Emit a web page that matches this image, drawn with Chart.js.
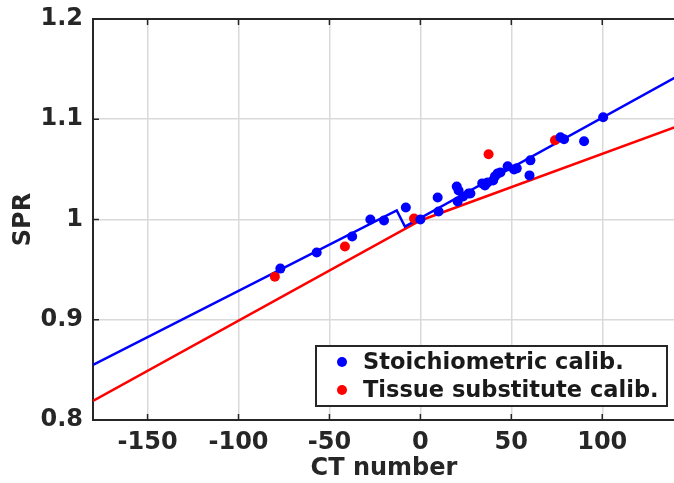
<!DOCTYPE html>
<html>
<head>
<script src="https://cdn.jsdelivr.net/npm/chart.js@4.4.1/dist/chart.umd.min.js"></script>
<style>
  html, body { margin: 0; padding: 0; background: #fff; overflow: hidden; }
  #wrap { width: 680px; height: 483px; }
</style>
</head>
<body>
<div id="wrap"><canvas id="sprChart"></canvas></div>

<script>
var stoichCT  = [-77, -57, -37.5, -27.5, -20, -8, 0, 9.5, 10, 20, 21, 20.5, 23.5, 26.5, 27.5, 34, 35.5, 37, 40, 41, 42.5, 44, 48, 51.5, 53, 60.5, 60, 77, 79, 90, 100.5];
var stoichSPR = [0.951, 0.967, 0.983, 1.000, 0.999, 1.012, 1.000, 1.022, 1.008, 1.033, 1.029, 1.018, 1.023, 1.026, 1.026, 1.036, 1.034, 1.037, 1.039, 1.043, 1.046, 1.047, 1.053, 1.050, 1.051, 1.059, 1.044, 1.082, 1.080, 1.078, 1.102];

var tissueCT  = [-80, -41.5, -3.5, 37.5, 74];
var tissueSPR = [0.943, 0.973, 1.001, 1.065, 1.079];

// fitted calibration curves (vertices)
var stoichFitCT  = [-180, -13, -8.5, 140];
var stoichFitSPR = [0.855, 1.009, 0.993, 1.1415];

var tissueFitCT  = [-180, 0, 140];
var tissueFitSPR = [0.819, 0.999, 1.092];

var xTicks = [-150, -100, -50, 0, 50, 100];
var yTicks = [0.8, 0.9, 1.0, 1.1, 1.2];
var yTickLabels = ["0.8", "0.9", "1", "1.1", "1.2"];

function toXY(xs, ys) {
    return xs.map(function(x, i) { return { x: x, y: ys[i] }; });
}

var axisColor = '#262626';
var fontFamily = "'DejaVu Sans', sans-serif";

// legend box in the lower right + inward tick marks + top frame line
var matlabBox = {
    id: 'matlabBox',
    afterDatasetsDraw: function(chart) {
        var ctx = chart.ctx;
        var area = chart.chartArea;
        var xs = chart.scales.x, ys = chart.scales.y;
        ctx.save();
        ctx.strokeStyle = axisColor;
        ctx.lineWidth = 2;
        ctx.beginPath();
        ctx.moveTo(area.left, area.top);
        ctx.lineTo(area.right, area.top);
        ctx.stroke();
        ctx.lineWidth = 1.5;
        xTicks.forEach(function(v) {
            var px = xs.getPixelForValue(v);
            ctx.beginPath();
            ctx.moveTo(px, area.bottom); ctx.lineTo(px, area.bottom - 6);
            ctx.moveTo(px, area.top); ctx.lineTo(px, area.top + 6);
            ctx.stroke();
        });
        yTicks.forEach(function(v) {
            var py = ys.getPixelForValue(v);
            ctx.beginPath();
            ctx.moveTo(area.left, py); ctx.lineTo(area.left + 6, py);
            ctx.stroke();
        });

        // legend
        var items = chart.data.datasets.filter(function(d) { return d.inLegend; });
        var bx = 316, by = 346, bw = 351, bh = 60;
        ctx.fillStyle = '#fff';
        ctx.fillRect(bx, by, bw, bh);
        ctx.lineWidth = 2;
        ctx.strokeRect(bx, by, bw, bh);
        ctx.font = 'bold 22.5px ' + fontFamily;
        ctx.textBaseline = 'middle';
        items.forEach(function(d, i) {
            var cy = by + 16 + i * 28;
            ctx.fillStyle = d.backgroundColor;
            ctx.beginPath();
            ctx.arc(bx + 26, cy, 5, 0, Math.PI * 2);
            ctx.fill();
            ctx.fillStyle = '#1a1a1a';
            ctx.fillText(d.label, bx + 47, cy + 1);
        });
        ctx.restore();
    }
};

new Chart("sprChart", {
    type: "scatter",
    data: {
        datasets: [
            {
                label: "Stoichiometric calib.",
                inLegend: true,
                data: toXY(stoichCT, stoichSPR),
                backgroundColor: '#0000ff',
                borderColor: '#0000ff',
                pointRadius: 5,
                pointBorderWidth: 0,
                order: 0
            },
            {
                label: "Tissue substitute calib.",
                inLegend: true,
                data: toXY(tissueCT, tissueSPR),
                backgroundColor: '#ff0000',
                borderColor: '#ff0000',
                pointRadius: 5,
                pointBorderWidth: 0,
                order: 0
            },
            {
                label: "stoich fit",
                data: toXY(stoichFitCT, stoichFitSPR),
                showLine: true,
                borderColor: '#0000ff',
                borderWidth: 2.5,
                pointRadius: 0,
                order: 1
            },
            {
                label: "tissue fit",
                data: toXY(tissueFitCT, tissueFitSPR),
                showLine: true,
                borderColor: '#ff0000',
                borderWidth: 2.5,
                pointRadius: 0,
                order: 1
            }
        ]
    },
    options: {
        responsive: true,
        maintainAspectRatio: false,
        animation: false,
        layout: { padding: { top: 19, right: 1, left: 0, bottom: 0 } },
        plugins: {
            legend: { display: false },
            tooltip: { enabled: false }
        },
        scales: {
            x: {
                type: 'linear',
                min: -180,
                max: 140,
                afterBuildTicks: function(s) { s.ticks = xTicks.map(function(v) { return { value: v }; }); },
                afterFit: function(s) { s.height = 63; s.paddingLeft = 0; s.paddingRight = 0; },
                grid: { color: '#d9d9d9', lineWidth: 1.5, drawTicks: false },
                border: { display: true, color: axisColor, width: 2 },
                ticks: {
                    padding: 8,
                    color: '#262626',
                    font: { family: fontFamily, size: 24, weight: 'bold' },
                    callback: function(v) { return String(v); }
                },
                title: {
                    display: true,
                    text: 'CT number',
                    color: '#262626',
                    padding: { top: 0, bottom: 0 },
                    font: { family: fontFamily, size: 24, weight: 'bold' }
                }
            },
            y: {
                type: 'linear',
                min: 0.8,
                max: 1.2,
                afterBuildTicks: function(s) { s.ticks = yTicks.map(function(v) { return { value: v }; }); },
                afterFit: function(s) { s.width = 93; s.paddingTop = 0; s.paddingBottom = 0; },
                grid: { color: '#d9d9d9', lineWidth: 1.5, drawTicks: false },
                border: { display: true, color: axisColor, width: 2 },
                ticks: {
                    padding: 10,
                    color: '#262626',
                    font: { family: fontFamily, size: 24, weight: 'bold' },
                    callback: function(v) {
                        var i = yTicks.findIndex(function(t) { return Math.abs(t - v) < 1e-6; });
                        return i >= 0 ? yTickLabels[i] : '';
                    }
                },
                title: {
                    display: true,
                    text: 'SPR',
                    color: '#262626',
                    padding: { top: 9, bottom: 0 },
                    font: { family: fontFamily, size: 24, weight: 'bold' }
                }
            }
        }
    },
    plugins: [matlabBox]
});
</script>
</body>
</html>
